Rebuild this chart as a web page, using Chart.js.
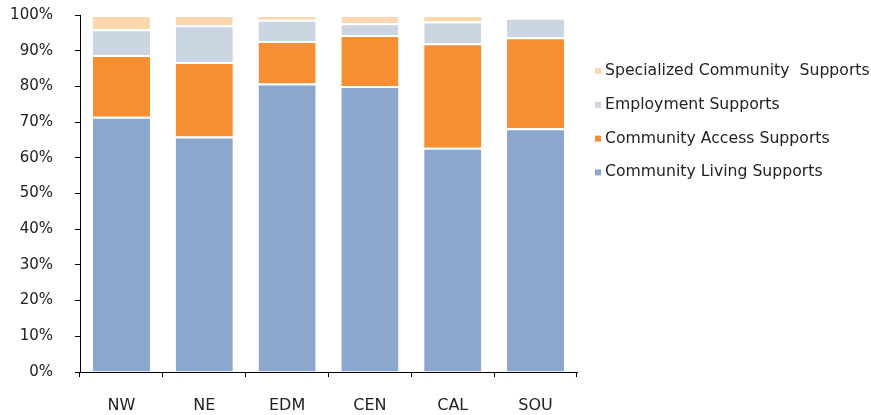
<!DOCTYPE html>
<html>
<head>
<meta charset="utf-8">
<script src="https://cdn.jsdelivr.net/npm/chart.js@4/dist/chart.umd.min.js"></script>
<style>
  html, body { margin: 0; padding: 0; background: #fff; }
  #wrap { width: 871px; height: 415px; position: relative; }
</style>
</head>
<body>
<div id="wrap"><canvas id="chart"></canvas></div>
<script>
// Regions and support shares (% of total)
const regions = ['NW', 'NE', 'EDM', 'CEN', 'CAL', 'SOU'];
const livingSupports = [71.5, 66.0, 80.8, 80.1, 62.8, 68.3];
const accessSupports = [17.3, 20.8, 11.9, 14.3, 29.3, 25.5];
const employmentSupports = [7.2, 10.3, 6.0, 3.3, 6.1, 5.4];
const specializedSupports = [4.0, 2.9, 1.3, 2.3, 1.8, 0];
const yTicks = [0, 10, 20, 30, 40, 50, 60, 70, 80, 90, 100];

const FONT = '"DejaVu Sans", Verdana, sans-serif';
Chart.defaults.font.family = FONT;
Chart.defaults.color = '#222';

function series(label, data, color) {
    return {
        label,
        data,
        backgroundColor: color,
        borderColor: '#ffffff',
        borderWidth: { top: 2, bottom: 0, left: 0, right: 0 },
        borderSkipped: false,
        barPercentage: 0.69,
        categoryPercentage: 1.0
    };
}

// Legend on the right, drawn from the datasets (top entry = last dataset)
const sideLegend = {
    id: 'sideLegend',
    afterDraw(chart) {
        const c = chart.ctx;
        const sets = chart.data.datasets.slice().reverse();
        c.save();
        c.font = '15.7px ' + FONT;
        c.textBaseline = 'middle';
        sets.forEach((ds, i) => {
            const y = 71 + i * 33.8;
            c.fillStyle = ds.backgroundColor;
            c.fillRect(595, y - 3, 6, 6);
            c.fillStyle = '#222';
            c.fillText(ds.label, 605, y);
        });
        c.restore();
    }
};

const ctx = document.getElementById('chart').getContext('2d');
const chart = new Chart(ctx, {
    type: 'bar',
    data: {
        labels: regions,
        datasets: [
            series('Community Living Supports', livingSupports, '#8ba7cd'),
            series('Community Access Supports', accessSupports, '#f58f31'),
            series('Employment Supports', employmentSupports, '#ccd6e2'),
            series('Specialized Community  Supports', specializedSupports, '#fad7ae')
        ]
    },
    options: {
        responsive: true,
        maintainAspectRatio: false,
        animation: false,
        layout: { padding: { top: 15, bottom: 0, left: 0, right: 294 } },
        scales: {
            x: {
                stacked: true,
                afterFit: scale => { scale.height = 43; scale.paddingLeft = 0; scale.paddingRight = 0; },
                border: { color: '#000', width: 1 },
                grid: { display: true, drawOnChartArea: false, drawTicks: true, tickLength: 5, color: '#000' },
                ticks: { font: { size: 16 }, color: '#222', padding: 19 }
            },
            y: {
                stacked: true,
                min: 0,
                max: 100,
                afterBuildTicks: axis => { axis.ticks = yTicks.map(v => ({ value: v })); },
                afterFit: scale => { scale.width = 80; scale.paddingTop = 0; scale.paddingBottom = 0; },
                border: { color: '#000', width: 1 },
                grid: { display: true, drawOnChartArea: false, drawTicks: true, tickLength: 5, color: '#000' },
                ticks: {
                    font: { size: 15 },
                    color: '#222',
                    padding: 22,
                    callback: v => v + '%'
                }
            }
        },
        plugins: {
            legend: { display: false },
            tooltip: { enabled: false }
        }
    },
    plugins: [sideLegend]
});
</script>
</body>
</html>
